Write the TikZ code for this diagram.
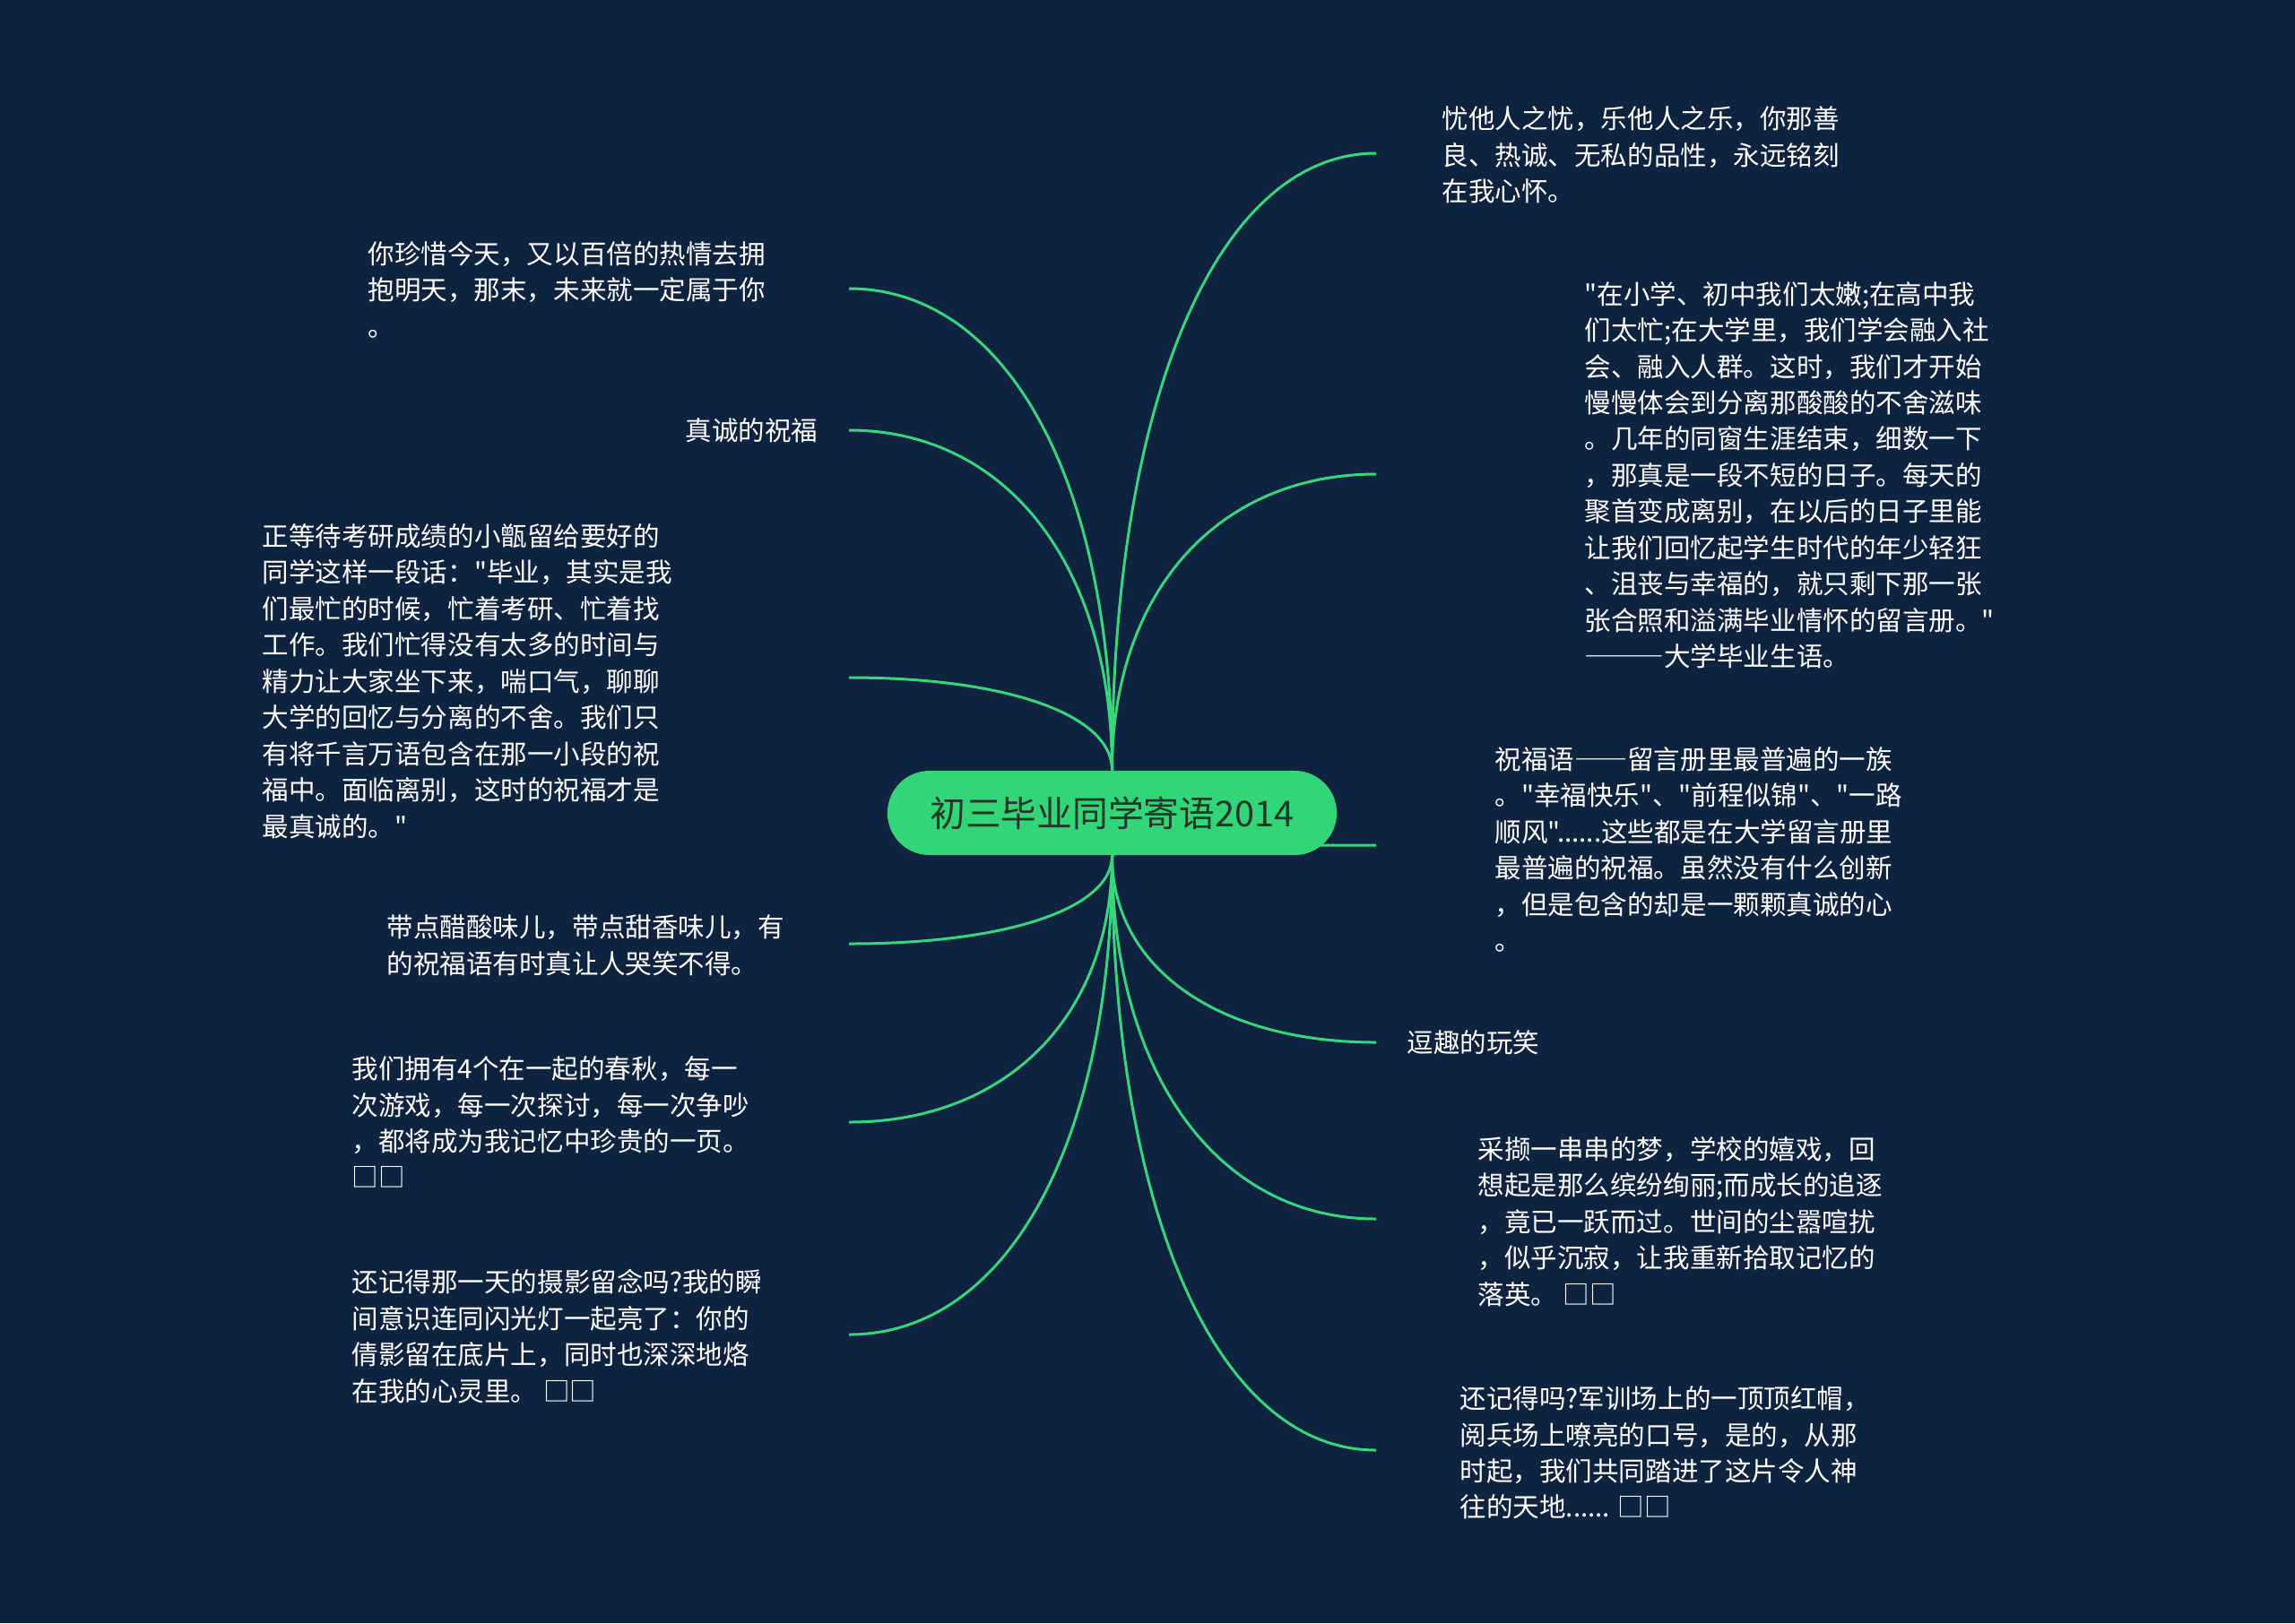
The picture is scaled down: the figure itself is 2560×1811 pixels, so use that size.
\documentclass[tikz,border=0pt]{standalone}
\usepackage{fontspec}
\setmainfont{Noto Sans CJK SC}[Ligatures=TeXOff]
\usetikzlibrary{calc}
\definecolor{bgc}{HTML}{0E2340}
\definecolor{linec}{HTML}{38D67C}
\definecolor{pillc}{HTML}{33D676}
\definecolor{titlec}{HTML}{22352A}
\pgfdeclarelayer{bglayer}
\pgfdeclarelayer{edgelayer}
\pgfsetlayers{bglayer,edgelayer,main}
\tikzset{
  leaf/.style={anchor=west, align=left, inner sep=0pt, text=white,
    font=\fontsize{8.4pt}{11.5pt}\selectfont},
  root/.style={rectangle, rounded corners=0.47cm, fill=pillc, draw=none,
    minimum width=5.01cm, minimum height=0.94cm, inner sep=0pt,
    text=titlec, font=\fontsize{11.3pt}{13pt}\selectfont},
  link/.style={draw=linec, line width=0.85pt},
}
\newcommand\fwd[1]{{\addfontfeature{CharacterWidth=Full}#1}}
\newcommand\mmlink[2]{\draw[link] (#1) .. controls ($(#1)!0.6!(#1|-#2)$) and ($(#1|-#2)!0.4!(#2)$) .. (#2);}
\begin{document}
\begin{tikzpicture}[x=0.01cm,y=-0.01cm]
\begin{pgfonlayer}{bglayer}
\fill[bgc] (0,0) rectangle (2560,1811);
\end{pgfonlayer}
\useasboundingbox (0,0) rectangle (2560,1811);

\node[root] (c) at (1240.5,907) {初三毕业同学寄语2014};

% left leaves
\node[leaf] (l1) at (410,323) {你珍惜今天，又以百倍的热情去拥\\抱明天，那末，未来就一定属于你\\。};
\node[leaf] (l2) at (764,480) {真诚的祝福};
\node[leaf] (l3) at (292,760) {正等待考研成绩的小甑留给要好的\\同学这样一段话："毕业，其实是我\\们最忙的时候，忙着考研、忙着找\\工作。我们忙得没有太多的时间与\\精力让大家坐下来，喘口气，聊聊\\大学的回忆与分离的不舍。我们只\\有将千言万语包含在那一小段的祝\\福中。面临离别，这时的祝福才是\\最真诚的。"};
\node[leaf] (l4) at (431,1055) {带点醋酸味儿，带点甜香味儿，有\\的祝福语有时真让人哭笑不得。};
\node[leaf] (l5) at (392,1252) {我们拥有4个在一起的春秋，每一\\次游戏，每一次探讨，每一次争吵\\，都将成为我记忆中珍贵的一页。\\□□};
\node[leaf] (l6) at (392,1491) {还记得那一天的摄影留念吗?我的瞬\\间意识连同闪光灯一起亮了：你的\\倩影留在底片上，同时也深深地烙\\在我的心灵里。 □□};

% right leaves
\node[leaf] (r1) at (1608,173) {忧他人之忧，乐他人之乐，你那善\\良、热诚、无私的品性，永远铭刻\\在我心怀。};
\node[leaf] (r2) at (1767,530) {"在小学、初中我们太嫩;在高中我\\们太忙;在大学里，我们学会融入社\\会、融入人群。这时，我们才开始\\慢慢体会到分离那酸酸的不舍滋味\\。几年的同窗生涯结束，细数一下\\，那真是一段不短的日子。每天的\\聚首变成离别，在以后的日子里能\\让我们回忆起学生时代的年少轻狂\\、沮丧与幸福的，就只剩下那一张\\张合照和溢满毕业情怀的留言册。"\\\fwd{———}大学毕业生语。};
\node[leaf] (r3) at (1667,948) {祝福语\fwd{——}留言册里最普遍的一族\\。"幸福快乐"、"前程似锦"、"一路\\顺风"......这些都是在大学留言册里\\最普遍的祝福。虽然没有什么创新\\，但是包含的却是一颗颗真诚的心\\。};
\node[leaf] (r4) at (1569,1163) {逗趣的玩笑};
\node[leaf] (r5) at (1648,1363) {采撷一串串的梦，学校的嬉戏，回\\想起是那么缤纷绚丽;而成长的追逐\\，竟已一跃而过。世间的尘嚣喧扰\\，似乎沉寂，让我重新拾取记忆的\\落英。 □□};
\node[leaf] (r6) at (1628,1621) {还记得吗?军训场上的一顶顶红帽，\\阅兵场上嘹亮的口号，是的，从那\\时起，我们共同踏进了这片令人神\\往的天地...... □□};

% connector free ends
\coordinate (l1e) at (947,322);
\coordinate (l2e) at (947,480);
\coordinate (l3e) at (947,756);
\coordinate (l4e) at (947,1053);
\coordinate (l5e) at (947,1252);
\coordinate (l6e) at (947,1489);
\coordinate (r1e) at (1535,171);
\coordinate (r2e) at (1535,529);
\coordinate (r3e) at (1535,943);
\coordinate (r4e) at (1535,1163);
\coordinate (r5e) at (1535,1360);
\coordinate (r6e) at (1535,1618);

\begin{pgfonlayer}{edgelayer}
\mmlink{c.north}{l1e}
\mmlink{c.north}{l2e}
\mmlink{c.north}{l3e}
\mmlink{c.south}{l4e}
\mmlink{c.south}{l5e}
\mmlink{c.south}{l6e}
\mmlink{c.north}{r1e}
\mmlink{c.north}{r2e}
\mmlink{c.south}{r3e}
\mmlink{c.south}{r4e}
\mmlink{c.south}{r5e}
\mmlink{c.south}{r6e}
\end{pgfonlayer}
\end{tikzpicture}
\end{document}
